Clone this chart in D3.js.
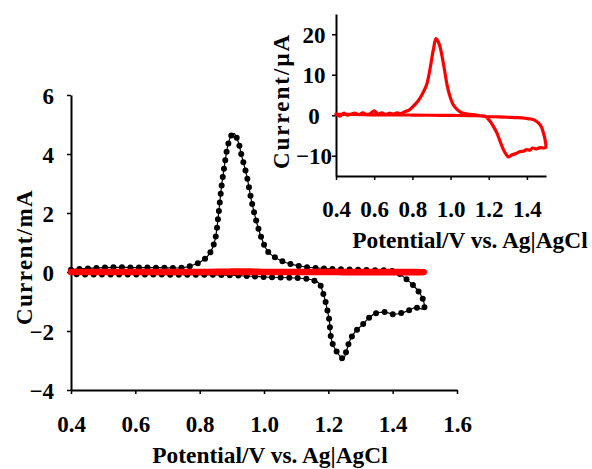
<!DOCTYPE html>
<html>
<head>
<meta charset="utf-8">
<script src="https://cdn.jsdelivr.net/npm/d3@7"></script>
<style>
  body { margin: 0; background: #fff; }
  text { font-family: "Liberation Serif", "Times New Roman", serif; font-weight: bold; fill: #000; }
</style>
</head>
<body>
<script>
// main CV (black, mA): forward sweep then reverse sweep
var mainCurve = [
  [0.40,0.08],[0.45,0.12],[0.50,0.15],[0.55,0.16],[0.60,0.15],[0.65,0.15],[0.70,0.14],[0.75,0.15],
  [0.79,0.28],[0.817,0.45],[0.835,0.7],[0.848,1.1],[0.858,1.9],[0.868,2.9],[0.877,3.6],[0.888,4.3],
  [0.898,4.62],[0.907,4.69],[0.92,4.41],[0.93,3.96],[0.946,3.28],[0.962,2.37],[0.977,1.69],[0.993,1.13],
  [1.013,0.68],[1.05,0.40],[1.09,0.25],[1.13,0.17],[1.20,0.11],[1.30,0.07],[1.40,0.03],[1.42,-0.05],
  [1.44,-0.22],[1.464,-0.45],[1.485,-0.73],[1.497,-1.02],
  [1.497,-1.24],[1.47,-1.21],[1.45,-1.30],[1.428,-1.39],[1.40,-1.43],[1.376,-1.36],[1.345,-1.41],
  [1.324,-1.58],[1.304,-1.81],[1.283,-2.03],[1.267,-2.32],[1.257,-2.65],[1.247,-2.94],[1.236,-2.85],
  [1.226,-2.70],[1.215,-2.48],[1.208,-2.20],[1.203,-1.64],[1.197,-1.30],[1.19,-0.95],[1.184,-0.73],
  [1.172,-0.39],[1.153,-0.28],[1.122,-0.22],[1.00,-0.17],[0.90,-0.11],[0.70,-0.09],[0.40,-0.08]
];

// inset CV (red, µA)
var insetCurve = [
  [0.40,0.3],[0.42,-0.2],[0.44,0.5],[0.46,0.0],[0.48,0.3],[0.50,0.5],[0.52,0.1],[0.54,0.6],[0.56,0.2],
  [0.58,0.4],[0.60,1.1],[0.62,0.3],[0.64,0.6],[0.66,0.2],[0.68,0.5],[0.70,0.3],[0.72,0.6],[0.74,0.4],
  [0.76,0.9],[0.78,1.2],[0.80,2.0],[0.83,3.5],[0.855,5.5],[0.875,7.6],[0.892,11.3],[0.91,16.2],
  [0.924,18.9],[0.941,17.5],[0.962,12.9],[0.983,7.2],[1.00,4.2],[1.014,2.6],[1.035,1.4],[1.058,0.6],
  [1.09,0.3],[1.12,0.17],[1.17,-0.25],[1.25,-0.4],[1.30,-0.5],[1.35,-0.6],[1.40,-0.8],[1.416,-0.9],
  [1.44,-1.2],[1.46,-1.9],[1.475,-2.8],[1.486,-4.3],[1.495,-6.0],[1.497,-8.0],
  [1.468,-8.0],[1.45,-8.3],[1.43,-8.1],[1.415,-8.6],[1.399,-8.5],[1.38,-8.9],[1.36,-9.0],[1.347,-9.4],
  [1.32,-9.8],[1.303,-10.3],[1.29,-9.6],[1.277,-8.5],[1.26,-6.5],[1.242,-4.3],[1.225,-2.8],[1.207,-1.5],
  [1.19,-0.6],[1.181,-0.25],[1.10,-0.1],[1.00,-0.05],[0.90,0.0],[0.80,0.05],[0.70,0.1],[0.60,0.1],
  [0.50,0.2],[0.40,0.2]
];

var mainXTicks = [0.4,0.6,0.8,1.0,1.2,1.4,1.6];
var mainYTicks = [-4,-2,0,2,4,6];
var insetXTicks = [0.4,0.6,0.8,1.0,1.2,1.4];
var insetYTicks = [-10,0,10,20];

var svg = d3.select("body").append("svg")
    .attr("width", 592)
    .attr("height", 469);

// ---- main chart ----
var x = d3.scaleLinear().domain([0.4, 1.6]).range([71, 457]);
var y = d3.scaleLinear().domain([-4, 6]).range([390, 95]);

var xAxis = d3.axisBottom(x).tickValues(mainXTicks).tickSize(4).tickSizeOuter(0).tickFormat(d3.format(".1f"));
var yAxis = d3.axisLeft(y).tickValues(mainYTicks).tickSize(4).tickSizeOuter(0).tickFormat(d3.format("d"));

var gx = svg.append("g").attr("transform", "translate(0,390)").call(xAxis);
var gy = svg.append("g").attr("transform", "translate(71,0)").call(yAxis);

function styleAxis(g, size) {
  g.select(".domain").attr("stroke", "#000").attr("stroke-width", 2);
  g.selectAll(".tick line").attr("stroke", "#000").attr("stroke-width", 1.5);
  g.selectAll(".tick text").style("font-size", size + "px")
    .style("font-family", '"Liberation Serif", serif').style("font-weight", "bold").attr("fill", "#000");
}
styleAxis(gx, 23);
styleAxis(gy, 23);
gx.selectAll(".tick text").attr("y", 0).attr("dy", "42px");
gy.selectAll(".tick text").attr("x", -17).attr("dy", "0.35em");

var line = d3.line()
    .x(function(d) { return x(d[0]); })
    .y(function(d) { return y(d[1]); })
    .curve(d3.curveCatmullRom.alpha(0.5));

svg.append("path").datum(mainCurve)
    .attr("d", line)
    .attr("fill", "none").attr("stroke", "#000").attr("stroke-width", 1.2);
svg.append("path").datum(mainCurve)
    .attr("d", line)
    .attr("fill", "none").attr("stroke", "#000").attr("stroke-width", 6)
    .attr("stroke-linecap", "round").attr("stroke-dasharray", "0,8.5");

// red trace on the mA scale
svg.append("path").datum(insetCurve.map(function(d) { return [d[0], d[1] / 1000]; }))
    .attr("d", line)
    .attr("fill", "none").attr("stroke", "#ff0000").attr("stroke-width", 6.5)
    .attr("stroke-linecap", "round").attr("stroke-linejoin", "round");

svg.append("text")
    .attr("x", 270).attr("y", 463)
    .attr("text-anchor", "middle")
    .style("font-size", "23.4px")
    .text("Potential/V vs. Ag|AgCl");

svg.append("text")
    .attr("transform", "translate(32,257) rotate(-90)")
    .attr("text-anchor", "middle")
    .style("font-size", "23px")
    .style("letter-spacing", "1.4px")
    .text("Current/mA");

// ---- inset ----
var xi = d3.scaleLinear().domain([0.4, 1.5]).range([336, 546]);
var yi = d3.scaleLinear().domain([-15, 25]).range([176, 14]);

var gxi = svg.append("g").attr("transform", "translate(0,176)")
    .call(d3.axisBottom(xi).tickValues(insetXTicks).tickSize(4).tickSizeOuter(0).tickFormat(d3.format(".1f")));
var gyi = svg.append("g").attr("transform", "translate(336,0)")
    .call(d3.axisLeft(yi).tickValues(insetYTicks).tickSize(4).tickSizeOuter(0).tickFormat(d3.format("d")));
styleAxis(gxi, 23);
styleAxis(gyi, 23);
gxi.selectAll(".tick text").attr("y", 0).attr("dy", "41px");
gyi.selectAll(".tick text").attr("x", -22).attr("dy", "0.35em").attr("text-anchor", "middle");

var linei = d3.line()
    .x(function(d) { return xi(d[0]); })
    .y(function(d) { return yi(d[1]); })
    .curve(d3.curveCatmullRom.alpha(0.5));

svg.append("path").datum(insetCurve)
    .attr("d", linei)
    .attr("fill", "none").attr("stroke", "#ff0000").attr("stroke-width", 3.2)
    .attr("stroke-linecap", "round").attr("stroke-linejoin", "round");

svg.append("text")
    .attr("x", 470).attr("y", 248)
    .attr("text-anchor", "middle")
    .style("font-size", "23.4px")
    .text("Potential/V vs. Ag|AgCl");

svg.append("text")
    .attr("transform", "translate(289,101) rotate(-90)")
    .attr("text-anchor", "middle")
    .style("font-size", "23px")
    .style("letter-spacing", "2px")
    .text("Current/\u03bcA");
</script>
</body>
</html>
